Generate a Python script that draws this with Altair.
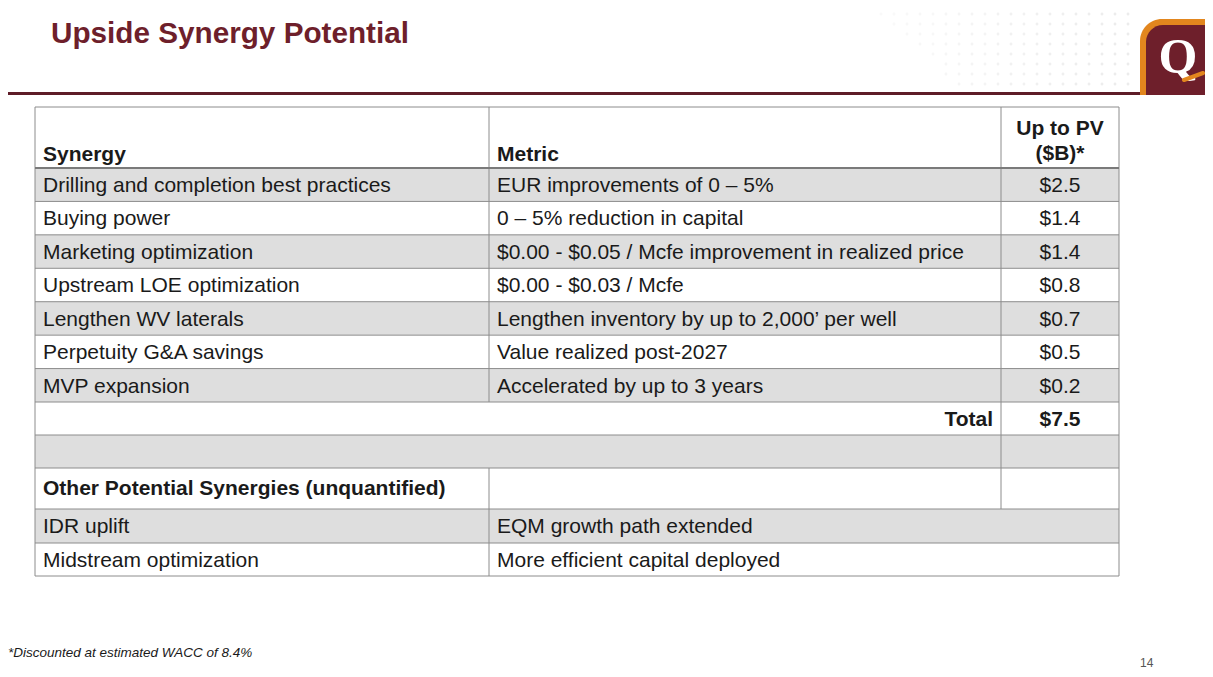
import altair as alt
import pandas as pd

# ---------------- content ----------------
title_text = "Upside Synergy Potential"
header_labels = ["Synergy", "Metric"]
pv_header = ["Up to PV", "($B)*"]
synergies = [
    "Drilling and completion best practices",
    "Buying power",
    "Marketing optimization",
    "Upstream LOE optimization",
    "Lengthen WV laterals",
    "Perpetuity G&A savings",
    "MVP expansion",
]
metrics = [
    "EUR improvements of 0 \u2013 5%",
    "0 \u2013 5% reduction in capital",
    "$0.00 - $0.05 / Mcfe improvement in realized price",
    "$0.00 - $0.03 / Mcfe",
    "Lengthen inventory by up to 2,000\u2019 per well",
    "Value realized post-2027",
    "Accelerated by up to 3 years",
]
pv_values = [2.5, 1.4, 1.4, 0.8, 0.7, 0.5, 0.2]
total_label = "Total"
total_value = 7.5
other_header = "Other Potential Synergies (unquantified)"
other_synergies = ["IDR uplift", "Midstream optimization"]
other_metrics = ["EQM growth path extended", "More efficient capital deployed"]
footnote_text = "*Discounted at estimated WACC of 8.4%"
page_number = "14"

# ---------------- layout (slide pixel units) ----------------
PAGE_W, PAGE_H, MARGIN = 1213, 677, 8
CHART_W, CHART_H = PAGE_W - 2 * MARGIN, PAGE_H - 2 * MARGIN
COL = [35, 489, 1001, 1119]
PAD = 8
PV_CENTER = (COL[2] + COL[3]) / 2
TABLE_TOP = 107
row_heights = [61] + [234 / 7] * 7 + [33, 33, 41, 34, 33]
edges = [TABLE_TOP]
for h in row_heights:
    edges.append(edges[-1] + h)
N_DATA = len(synergies)
TOTAL_ROW = N_DATA + 1
BLANK_ROW = N_DATA + 2
OTHER_HDR_ROW = N_DATA + 3
FIRST_OTHER_ROW = N_DATA + 4

FONT = "Liberation Sans"
TEXT_COLOR = "#1A1A1A"
GRID_COLOR = "#8C8C8C"
STRIPE = "#DEDEDE"
MAROON = "#6E1F2B"
ORANGE = "#E2861E"
BODY_SIZE = 21


def baseline(i):
    return (edges[i] + edges[i + 1]) / 2 + 7.3


X = alt.X("x:Q", scale=alt.Scale(domain=[MARGIN, PAGE_W - MARGIN], nice=False, zero=False), axis=None)
Y = alt.Y("y:Q", scale=alt.Scale(domain=[MARGIN, PAGE_H - MARGIN], nice=False, zero=False, reverse=True), axis=None)
X2 = alt.X2("x2:Q")
Y2 = alt.Y2("y2:Q")

layers = []

# ---- decorative dot pattern (top right) ----
dots = []
for cy in range(4, 90, 10):
    for cx in range(868, PAGE_W, 13):
        if cx < 868 + (cy - 4) * 1.1:
            continue
        if cx > 1134 and cy > 12:
            continue
        dots.append({"x": cx, "y": cy, "o": 0.12 + 0.45 * (cx - 868) / (PAGE_W - 868)})
layers.append(
    alt.Chart(pd.DataFrame(dots)).mark_point(shape="cross", size=8, filled=True, strokeWidth=0, color="#C8C8C8")
    .encode(x=X, y=Y, opacity=alt.Opacity("o:Q", scale=None, legend=None))
)

# ---- title and rule under it ----
layers.append(
    alt.Chart(pd.DataFrame([{"x": 51, "y": 43, "t": title_text}]))
    .mark_text(align="left", baseline="alphabetic", font=FONT, fontSize=29.7, fontWeight="bold", color=MAROON)
    .encode(x=X, y=Y, text="t:N")
)
layers.append(
    alt.Chart(pd.DataFrame([{"x": MARGIN, "x2": 1142, "y": 92, "y2": 95}]))
    .mark_rect(color="#5E1C28").encode(x=X, x2=X2, y=Y, y2=Y2)
)

# ---- logo ----
layers.append(
    alt.Chart(pd.DataFrame([{"x": 1140, "x2": PAGE_W, "y": 19, "y2": 95}]))
    .mark_rect(color=ORANGE, cornerRadiusTopLeft=22).encode(x=X, x2=X2, y=Y, y2=Y2)
)
layers.append(
    alt.Chart(pd.DataFrame([{"x": 1146, "x2": PAGE_W, "y": 25, "y2": 95}]))
    .mark_rect(color=MAROON, cornerRadiusTopLeft=17).encode(x=X, x2=X2, y=Y, y2=Y2)
)
layers.append(
    alt.Chart(pd.DataFrame([{"x": 1178, "y": 73, "t": "Q"}]))
    .mark_text(align="center", baseline="alphabetic", font="Liberation Serif", fontSize=50, fontWeight="bold", color="white")
    .encode(x=X, y=Y, text="t:N")
)
layers.append(
    alt.Chart(pd.DataFrame([{"x": 1184, "x2": 1203, "y": 80, "y2": 73}]))
    .mark_rule(color=ORANGE, strokeWidth=4, strokeCap="round").encode(x=X, x2=X2, y=Y, y2=Y2)
)

# ---- row fills ----
fills = []
for i in range(len(row_heights)):
    fills.append({"x": COL[0], "x2": COL[3], "y": edges[i], "y2": edges[i + 1],
                  "f": STRIPE if i % 2 == 1 else "#FFFFFF"})
layers.append(
    alt.Chart(pd.DataFrame(fills)).mark_rect()
    .encode(x=X, x2=X2, y=Y, y2=Y2, color=alt.Color("f:N", scale=None, legend=None))
)

# ---- grid lines ----
hlines = [{"x": COL[0], "x2": COL[3], "y": e, "y2": e} for j, e in enumerate(edges) if j != 1]
vlines = [
    {"x": COL[0], "x2": COL[0], "y": edges[0], "y2": edges[-1]},
    {"x": COL[3], "x2": COL[3], "y": edges[0], "y2": edges[-1]},
    {"x": COL[1], "x2": COL[1], "y": edges[0], "y2": edges[TOTAL_ROW]},
    {"x": COL[1], "x2": COL[1], "y": edges[OTHER_HDR_ROW], "y2": edges[-1]},
    {"x": COL[2], "x2": COL[2], "y": edges[0], "y2": edges[FIRST_OTHER_ROW]},
]
layers.append(
    alt.Chart(pd.DataFrame(hlines + vlines)).mark_rule(color=GRID_COLOR, strokeWidth=1)
    .encode(x=X, x2=X2, y=Y, y2=Y2)
)
layers.append(
    alt.Chart(pd.DataFrame([{"x": COL[0], "x2": COL[3], "y": edges[1], "y2": edges[1]}]))
    .mark_rule(color="#7A7A7A", strokeWidth=2).encode(x=X, x2=X2, y=Y, y2=Y2)
)

# ---- text ----
left_normal, center_normal, left_bold, center_bold, right_bold = [], [], [], [], []
for i, (s, m, v) in enumerate(zip(synergies, metrics, pv_values)):
    r = i + 1
    left_normal.append({"x": COL[0] + PAD, "y": baseline(r), "t": s})
    left_normal.append({"x": COL[1] + PAD, "y": baseline(r), "t": m})
    center_normal.append({"x": PV_CENTER, "y": baseline(r), "t": f"${v:.1f}"})
for k, (s, m) in enumerate(zip(other_synergies, other_metrics)):
    r = FIRST_OTHER_ROW + k
    left_normal.append({"x": COL[0] + PAD, "y": baseline(r), "t": s})
    left_normal.append({"x": COL[1] + PAD, "y": baseline(r), "t": m})

left_bold.append({"x": COL[0] + PAD, "y": edges[1] - 7.5, "t": header_labels[0]})
left_bold.append({"x": COL[1] + PAD, "y": edges[1] - 7.5, "t": header_labels[1]})
center_bold.append({"x": PV_CENTER, "y": edges[1] - 33.5, "t": pv_header[0]})
center_bold.append({"x": PV_CENTER, "y": edges[1] - 8.5, "t": pv_header[1]})
right_bold.append({"x": COL[2] - PAD, "y": baseline(TOTAL_ROW), "t": total_label})
center_bold.append({"x": PV_CENTER, "y": baseline(TOTAL_ROW), "t": f"${total_value:.1f}"})
left_bold.append({"x": COL[0] + PAD, "y": baseline(OTHER_HDR_ROW) - 1, "t": other_header})


def text_layer(rows, align, weight):
    return (
        alt.Chart(pd.DataFrame(rows))
        .mark_text(align=align, baseline="alphabetic", font=FONT, fontSize=BODY_SIZE, fontWeight=weight, color=TEXT_COLOR)
        .encode(x=X, y=Y, text="t:N")
    )


layers.append(text_layer(left_normal, "left", "normal"))
layers.append(text_layer(center_normal, "center", "normal"))
layers.append(text_layer(left_bold, "left", "bold"))
layers.append(text_layer(center_bold, "center", "bold"))
layers.append(text_layer(right_bold, "right", "bold"))

# ---- footnote and page number ----
layers.append(
    alt.Chart(pd.DataFrame([{"x": MARGIN, "y": 657, "t": footnote_text}]))
    .mark_text(align="left", baseline="alphabetic", font=FONT, fontSize=13.5, fontStyle="italic", color=TEXT_COLOR)
    .encode(x=X, y=Y, text="t:N")
)
layers.append(
    alt.Chart(pd.DataFrame([{"x": 1140, "y": 667, "t": page_number}]))
    .mark_text(align="left", baseline="alphabetic", font=FONT, fontSize=12, color="#555555")
    .encode(x=X, y=Y, text="t:N")
)

chart = (
    alt.layer(*layers)
    .properties(width=CHART_W, height=CHART_H, padding=0, autosize="none", background="white")
    .configure_view(stroke=None)
)

chart.save("out.html", embed_options={"renderer": "svg", "actions": False})
